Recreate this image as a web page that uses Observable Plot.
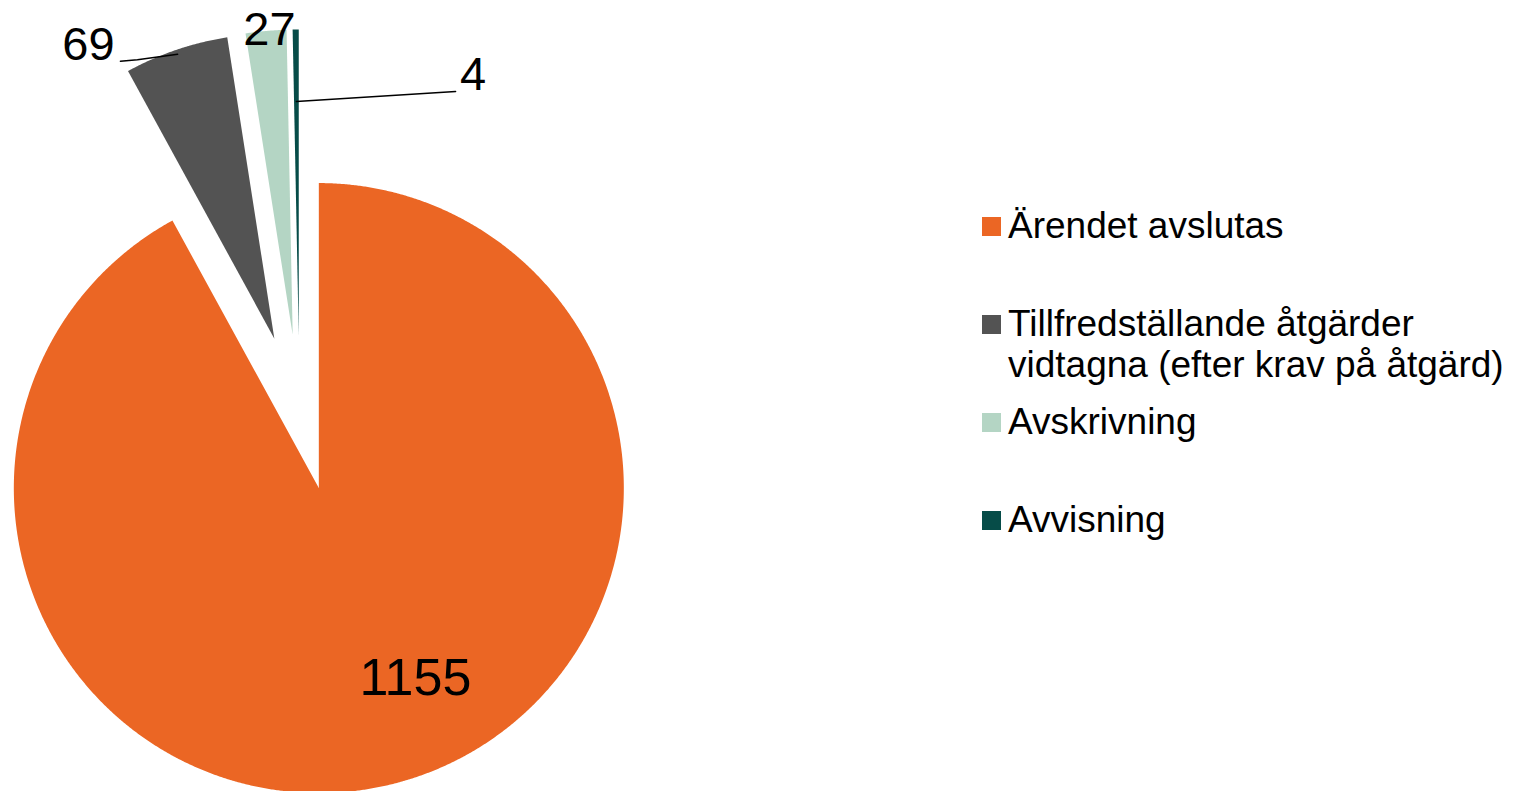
<!DOCTYPE html>
<html><head><meta charset="utf-8">
<script src="https://cdn.jsdelivr.net/npm/d3@7"></script>
<script src="https://cdn.jsdelivr.net/npm/@observablehq/plot@0.6"></script>
<style>
html,body{margin:0;padding:0;background:#fff;}
#wrap{position:relative;width:1514px;height:791px;overflow:hidden;font-family:"Liberation Sans",Arial,sans-serif;}
#legend{position:absolute;left:982px;top:205px;}
.item{position:relative;height:98px;line-height:41px;font-size:37px;color:#000;padding-left:26px;white-space:nowrap;}
.sw{position:absolute;left:0;top:12px;width:19px;height:19px;}
</style></head><body><div id="wrap"></div>
<script>
// ---- data ----
const categories = ["Ärendet avslutas", "Tillfredställande åtgärder vidtagna (efter krav på åtgärd)", "Avskrivning", "Avvisning"];
const legendLines = [["Ärendet avslutas"], ["Tillfredställande åtgärder", "vidtagna (efter krav på åtgärd)"], ["Avskrivning"], ["Avvisning"]];
const values = [1155, 69, 27, 4];
const colors = ["#EB6624", "#535353", "#B4D5C4", "#064C48"];

// ---- layout ----
const W = 1514, H = 791, R = 305, cx = 299, cy = 412;
const explode = 78 / R;
// label placement: polar (degrees clockwise from north, radius in pie radii) from each exploded slice's apex
const labelPlace = [
  {angle: 153.1, r: 0.70, size: 52},
  {angle: 327.7, r: 1.141, size: 47, leader: {startR: 0.985, pts: [[49, 15.3], [32, 16.7]]}},
  {angle: 355.65, r: 1.004, size: 47},
  {angle: 33.9, r: 1.025, size: 47, leader: {startR: 0.764, pts: [[-17.5, 16.5]]}}
];

const arcs = d3.pie().sort(null).value(d => d)(values);
const dir = a => [Math.sin(a), Math.cos(a)];

const polys = [];
const labels = [];
const leaders = [];
arcs.forEach((a, i) => {
  const mid = (a.startAngle + a.endAngle) / 2;
  const [mx, my] = dir(mid);
  const ox = explode * mx, oy = explode * my;
  const cat = categories[i];
  polys.push({cat, x: ox, y: oy});
  const n = Math.max(4, Math.ceil((a.endAngle - a.startAngle) / (Math.PI / 720)));
  for (let k = 0; k <= n; k++) {
    const t = a.startAngle + (a.endAngle - a.startAngle) * k / n;
    const [dx, dy] = dir(t);
    polys.push({cat, x: ox + dx, y: oy + dy});
  }
  polys.push({cat, x: ox, y: oy});
  const lp = labelPlace[i];
  const [lx, ly] = dir(lp.angle * Math.PI / 180);
  const L = {x: ox + lp.r * lx, y: oy + lp.r * ly, text: String(values[i]), size: lp.size};
  labels.push(L);
  if (lp.leader) {
    leaders.push({g: i, x: ox + lp.leader.startR * mx, y: oy + lp.leader.startR * my});
    lp.leader.pts.forEach(([px, py]) => leaders.push({g: i, x: L.x + px / R, y: L.y - py / R}));
  }
});

const chart = Plot.plot({
  width: W, height: H,
  margin: 0,
  x: {domain: [-cx / R, (W - cx) / R], range: [0, W], axis: null},
  y: {domain: [-(H - cy) / R, cy / R], range: [H, 0], axis: null},
  color: {domain: categories, range: colors},
  style: {fontFamily: "'Liberation Sans', Arial, sans-serif", background: "#fff", overflow: "hidden"},
  marks: [
    Plot.line(polys, {x: "x", y: "y", z: "cat", fill: "cat", stroke: "none"}),
    Plot.line(leaders, {x: "x", y: "y", z: "g", stroke: "#000", strokeWidth: 1.5}),
    Plot.text(labels, {x: "x", y: "y", text: "text", fontSize: d => d.size, fill: "#000"})
  ]
});

const wrap = document.getElementById("wrap");
wrap.appendChild(chart);
const leg = document.createElement("div");
leg.id = "legend";
categories.forEach((c, i) => {
  const it = document.createElement("div");
  it.className = "item";
  const sw = document.createElement("span");
  sw.className = "sw";
  sw.style.background = colors[i];
  it.appendChild(sw);
  legendLines[i].forEach(t => {
    const d = document.createElement("div");
    d.textContent = t;
    it.appendChild(d);
  });
  leg.appendChild(it);
});
wrap.appendChild(leg);
</script></body></html>
